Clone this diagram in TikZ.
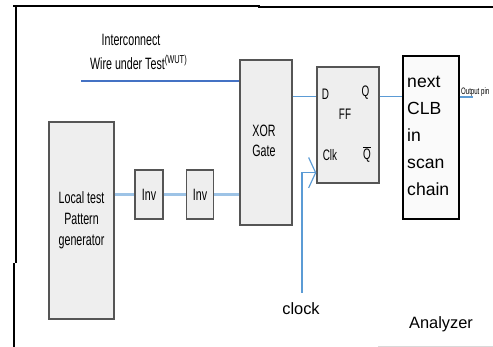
\documentclass[tikz,border=0pt]{standalone}
\usepackage{fontspec}
\setmainfont{Liberation Sans}
\usetikzlibrary{arrows.meta,positioning}
\definecolor{boxgray}{RGB}{238,238,238}
\definecolor{edgegray}{RGB}{85,85,85}
\definecolor{wireblue}{RGB}{68,114,196}
\definecolor{paleblue}{RGB}{157,195,230}
\definecolor{ffblue}{RGB}{91,155,213}
\tikzset{
  block/.style={rectangle, draw=edgegray, fill=boxgray, line width=1.2pt, inner sep=0pt},
  clbbox/.style={rectangle, draw=black, fill=gray!4, line width=1pt, inner sep=0pt},
  narrow/.style={font=\fontsize{14}{18}\selectfont, xscale=0.65, transform shape, align=center, inner sep=0pt},
  pinlbl/.style={font=\fontsize{13}{15}\selectfont, xscale=0.65, transform shape, inner sep=0pt},
  biglbl/.style={font=\fontsize{14}{23}\selectfont, inner sep=0pt},
  wire/.style={line width=1.3pt, draw=ffblue},
  thickwire/.style={line width=2.5pt, draw=paleblue},
  clkarrow/.style={-{Straight Barb[length=6pt,width=26pt]}, line width=1pt, draw=ffblue},
}

\begin{document}
\begin{tikzpicture}[x=0.03cm, y=-0.03cm]
  \useasboundingbox (0,0) rectangle (493,347);

  % page frame
  \draw[line width=1pt] (13,6) -- (259,6) -- (259,7) -- (493,7);
  \draw[line width=1pt] (16,6) -- (16,263);
  \draw[line width=1pt] (14,263) -- (14,347);
  \draw[gray!30] (378,346) -- (493,346);

  % pattern source
  \node[block, minimum width=1.95cm, minimum height=5.91cm] (gen) at (81.5,220.5) {};
  \node[narrow] (gentext) at (gen) {Local test\\Pattern\\generator};
  \node[block, minimum width=0.84cm, minimum height=1.47cm] (inv1) at (149,194.5) {};
  \node[narrow] (inv1text) at (inv1) {Inv};
  \node[block, minimum width=0.8cm, minimum height=1.47cm] (inv2) at (200,194.5) {};
  \node[narrow] (inv2text) at (inv2) {Inv};

  % gate and flip-flop
  \node[block, minimum width=1.56cm, minimum height=4.95cm] (xor) at (266,142.5) {};
  \node[narrow, font=\fontsize{14}{16.5}\selectfont] (xortext) at (264,141) {XOR\\Gate};
  \node[block, minimum width=1.86cm, minimum height=3.48cm] (ff) at (348,125) {};
  \node[pinlbl] (dlbl) at (325.5,94) {D};
  \node[pinlbl] (qlbl) at (365.5,93) {Q};
  \node[pinlbl] (fflbl) at (345,114) {FF};
  \node[pinlbl] (clklbl) at (330,155) {Clk};
  \node[pinlbl] (qbarlbl) at (367,154) {$\overline{\mbox{Q}}$};
  \coordinate (ffd) at ([yshift=-0.9cm]ff.north west);
  \coordinate (ffq) at ([yshift=-0.9cm]ff.north east);
  \coordinate (ffclk) at ([yshift=0.33cm]ff.south west);

  % next CLB
  \node[clbbox, minimum width=1.68cm, minimum height=4.89cm] (clb) at (431,137.5) {};
  \node[font=\fontsize{15}{23}\selectfont, align=left, anchor=west, inner sep=0pt] (clbtext) at (407,136) {next\\CLB\\in\\scan\\chain};
  \node[font=\fontsize{8}{9}\selectfont, xscale=0.65, transform shape, anchor=base west, inner sep=0pt] (outlbl) at (461,95) {Output pin};
  \coordinate (outend) at (473,97);

  % wire under test
  \coordinate (wutstart) at (81,81);
  \node[narrow] (wutlbl1) at (131,40) {Interconnect};
  \node[narrow, anchor=base west] (wutlbl2) at (90,70) {Wire under Test\textsuperscript{(WUT)}};

  % clock
  \coordinate (clkin) at (302,293);
  \node[biglbl] (clklabel) at (301,309) {clock};
  \node[biglbl] (analyzer) at (441,324) {Analyzer};

  \draw[thickwire] (gen.east |- inv1) -- (inv1.west);
  \draw[thickwire] (inv1) -- (inv2);
  \draw[thickwire] (inv2) -- (xor.west |- inv2);
  \draw[wire, draw=wireblue] (wutstart) -- (xor.west |- wutstart);
  \draw[wire] (xor.east |- ffd) -- (ffd);
  \draw[wire] (ffq) -- (clb.west |- ffq);
  \draw[wire, line width=1pt] (clb.east |- outend) -- (outend);
  \draw[clkarrow] (clkin) |- (ffclk);

\end{tikzpicture}
\end{document}
